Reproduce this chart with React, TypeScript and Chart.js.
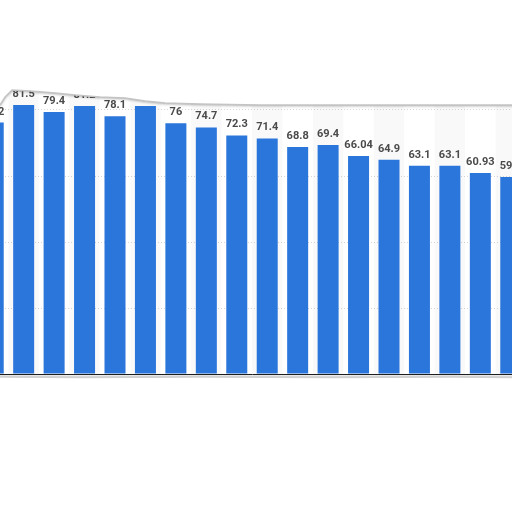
import React, { useEffect, useRef } from 'react'
import Chart, { ChartConfiguration, Plugin } from 'chart.js/auto'

const categories = [
  '2004', '2005', '2006', '2007', '2008', '2009', '2010', '2011', '2012',
  '2013', '2014', '2015', '2016', '2017', '2018', '2019', '2020', '2021',
]
const values = [
  76.2, 81.5, 79.4, 81.2, 78.1, 81.2, 76, 74.7, 72.3,
  71.4, 68.8, 69.4, 66.04, 64.9, 63.1, 63.1, 60.93, 59.7,
]
const yTicks = [0, 20, 40, 60, 80, 100]

const CANVAS_LEFT = -22.1
const CANVAS_W = 548
const CANVAS_H = 512

// torn paper edge, page coordinates
const tearTop: [number, number][] = [
  [0, 105], [5, 97], [12, 90], [30, 91], [55, 93], [75, 95], [100, 97],
  [125, 98], [145, 101], [165, 103], [200, 104], [260, 105], [350, 105],
  [450, 105], [512, 105],
]
const tearBottom: [number, number][] = [
  [0, 377], [80, 377.5], [200, 377], [330, 377.5], [450, 377], [512, 377.5],
]

const bands: Plugin<'bar'> = {
  id: 'bands',
  beforeDatasetsDraw(chart) {
    const { ctx, chartArea, scales } = chart
    const x = scales.x
    const step = chartArea.width / categories.length
    ctx.save()
    ctx.fillStyle = 'rgba(0,0,0,0.025)'
    categories.forEach((_, i) => {
      if (i % 2 === 1) {
        const cx = x.getPixelForValue(i)
        ctx.fillRect(cx - step / 2, chartArea.top, step, chartArea.bottom - chartArea.top)
      }
    })
    ctx.restore()
  },
}

const barLabels: Plugin<'bar'> = {
  id: 'barLabels',
  afterDatasetsDraw(chart) {
    const { ctx } = chart
    const meta = chart.getDatasetMeta(0)
    ctx.save()
    ctx.font = 'bold 11px Roboto, "Liberation Sans", sans-serif'
    ctx.fillStyle = '#4a4a4a'
    ctx.textAlign = 'center'
    ctx.textBaseline = 'alphabetic'
    meta.data.forEach((bar, i) => {
      ctx.fillText(String(values[i]), bar.x, bar.y - 8)
    })
    ctx.restore()
  },
}

const tear: Plugin<'bar'> = {
  id: 'tear',
  afterDraw(chart) {
    const { ctx } = chart
    ctx.save()
    ctx.translate(-CANVAS_LEFT, 0)
    // top
    ctx.beginPath()
    ctx.moveTo(-40, -5)
    tearTop.forEach(([px, py], i) => {
      if (i === 0) ctx.lineTo(-40, py)
      ctx.lineTo(px, py)
    })
    ctx.lineTo(560, tearTop[tearTop.length - 1][1])
    ctx.lineTo(560, -5)
    ctx.closePath()
    ctx.fillStyle = '#ffffff'
    ctx.shadowColor = 'rgba(0,0,0,0.35)'
    ctx.shadowBlur = 3
    ctx.shadowOffsetY = 1
    ctx.fill()
    ctx.shadowColor = 'transparent'
    ctx.beginPath()
    tearTop.forEach(([px, py], i) => (i === 0 ? ctx.moveTo(px, py) : ctx.lineTo(px, py)))
    ctx.strokeStyle = '#c4c4c4'
    ctx.lineWidth = 1.5
    ctx.stroke()
    // bottom
    ctx.beginPath()
    ctx.moveTo(-40, 600)
    ctx.lineTo(-40, tearBottom[0][1])
    tearBottom.forEach(([px, py]) => ctx.lineTo(px, py))
    ctx.lineTo(560, tearBottom[tearBottom.length - 1][1])
    ctx.lineTo(560, 600)
    ctx.closePath()
    ctx.fillStyle = '#ffffff'
    ctx.shadowColor = 'rgba(0,0,0,0.3)'
    ctx.shadowBlur = 3
    ctx.shadowOffsetY = -1
    ctx.fill()
    ctx.shadowColor = 'transparent'
    ctx.beginPath()
    tearBottom.forEach(([px, py], i) => (i === 0 ? ctx.moveTo(px, py) : ctx.lineTo(px, py)))
    ctx.strokeStyle = '#d0d0d0'
    ctx.lineWidth = 1.5
    ctx.stroke()
    ctx.restore()
  },
}

const App = () => {
  const chartRef = useRef<HTMLCanvasElement>(null)
  const chartInstance = useRef<Chart<'bar'>>()

  useEffect(() => {
    if (!chartRef.current) return
    const config: ChartConfiguration<'bar', number[], string> = {
      type: 'bar',
      data: {
        labels: categories,
        datasets: [
          {
            data: values,
            backgroundColor: '#2b76db',
            borderWidth: 0,
            barPercentage: 0.69,
            categoryPercentage: 1,
          },
        ],
      },
      options: {
        responsive: false,
        animation: false,
        layout: { padding: { top: 44, bottom: CANVAS_H - 374, left: 0, right: 0 } },
        plugins: { legend: { display: false }, tooltip: { enabled: false } },
        scales: {
          x: {
            offset: true,
            ticks: { display: false },
            grid: { display: false },
            border: { display: true, color: '#1f1f1f', width: 1 },
            afterFit: (scale) => {
              scale.height = 0
            },
          },
          y: {
            min: 0,
            max: 100,
            afterBuildTicks: (scale) => {
              scale.ticks = yTicks.map((v) => ({ value: v }))
            },
            ticks: { display: false },
            border: { display: false },
            grid: {
              color: '#d6d6d6',
              lineWidth: 1,
              tickLength: 0,
              drawTicks: false,
            },
            afterFit: (scale) => {
              scale.width = 0
            },
          },
        },
      },
      plugins: [bands, barLabels, tear],
    }
    // dotted gridlines
    ;(config.options!.scales!.y as any).border = { display: false, dash: [1, 2] }
    chartInstance.current = new Chart(chartRef.current, config)
    return () => {
      if (chartInstance.current) {
        chartInstance.current.destroy()
      }
    }
  }, [])

  return (
    <div
      style={{
        position: 'fixed',
        left: 0,
        top: 0,
        width: 512,
        height: 512,
        overflow: 'hidden',
        background: '#ffffff',
      }}
    >
      <canvas
        ref={chartRef}
        width={CANVAS_W}
        height={CANVAS_H}
        style={{ position: 'absolute', left: CANVAS_LEFT, top: 0 }}
      />
    </div>
  )
}

export default App
